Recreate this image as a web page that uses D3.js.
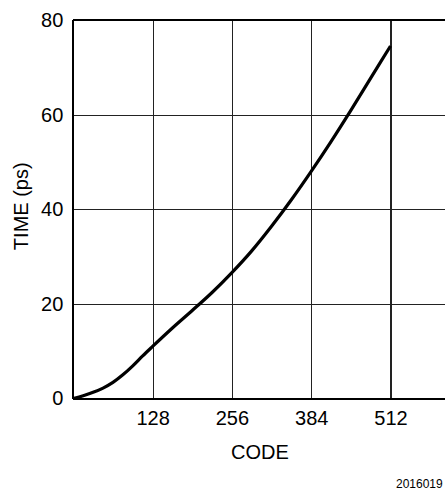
<!DOCTYPE html>
<html>
<head>
<meta charset="utf-8">
<script src="https://cdn.jsdelivr.net/npm/d3@7"></script>
<style>
  html, body { margin: 0; padding: 0; background: #fff; overflow: hidden; }
  svg, svg text { font-family: "Liberation Sans", LiberationSans, Arimo, Arial, Helvetica, Roboto, sans-serif; }
  svg { display: block; }
</style>
</head>
<body>
<svg id="chart"></svg>
<script>
// values
const codes = [0, 16, 32, 48, 64, 80, 96, 112, 128, 160, 192, 224, 256, 288, 320, 352, 384, 416, 448, 480, 512];
const times = [0, 0.6, 1.3, 2.2, 3.4, 5.0, 6.9, 9.0, 11.0, 14.9, 18.6, 22.4, 26.6, 31.2, 36.4, 42.0, 48.0, 54.3, 60.9, 67.7, 74.5];
const xTicks = [128, 256, 384, 512];
const yTicks = [0, 20, 40, 60, 80];

const width = 445;
const height = 491;
const plot = { left: 73.3, top: 20, right: 469.8, bottom: 398.5 };
const fontFamily = '"Liberation Sans", LiberationSans, Arimo, Arial, Helvetica, Roboto, sans-serif';
const fontSize = 20;

const svg = d3.select('#chart')
    .attr('width', width)
    .attr('height', height);

const x = d3.scaleLinear().domain([0, 640]).range([plot.left, plot.right]);
const y = d3.scaleLinear().domain([0, 80]).range([plot.bottom, plot.top]);

// grid + tick labels
const xAxis = svg.append('g')
    .attr('transform', `translate(0,${plot.bottom})`)
    .call(d3.axisBottom(x)
      .tickValues(xTicks)
      .tickSizeInner(-(plot.bottom - plot.top))
      .tickSizeOuter(0)
      .tickPadding(12.5));

const yAxis = svg.append('g')
    .attr('transform', `translate(${plot.left},0)`)
    .call(d3.axisLeft(y)
      .tickValues(yTicks)
      .tickSizeInner(-(plot.right - plot.left))
      .tickSizeOuter(0)
      .tickPadding(10));

[xAxis, yAxis].forEach(ax => {
  ax.attr('font-family', fontFamily).attr('font-size', fontSize);
  ax.select('.domain').remove();
  ax.selectAll('.tick line')
    .attr('stroke', '#222')
    .attr('stroke-width', 1.2)
    .attr('shape-rendering', 'crispEdges');
  ax.selectAll('.tick text')
    .attr('fill', '#000');
});

// frame: left, top, bottom
const frame = svg.append('g')
    .attr('stroke', '#000')
    .attr('stroke-width', 2)
    .attr('shape-rendering', 'crispEdges');
frame.append('line')
    .attr('x1', x(0)).attr('x2', x(0))
    .attr('y1', y(80)).attr('y2', y(0));
frame.append('line')
    .attr('x1', x(0)).attr('x2', x(640))
    .attr('y1', y(80)).attr('y2', y(80));
frame.append('line')
    .attr('x1', x(0)).attr('x2', x(640))
    .attr('y1', y(0)).attr('y2', y(0));

// the curve
const line = d3.line()
    .x((d, i) => x(codes[i]))
    .y(d => y(d))
    .curve(d3.curveMonotoneX);

svg.append('path')
    .datum(times)
    .attr('fill', 'none')
    .attr('stroke', '#000')
    .attr('stroke-width', 3.2)
    .attr('d', line);

// labels
svg.append('text')
    .attr('x', 260)
    .attr('y', 458.5)
    .attr('text-anchor', 'middle')
    .attr('font-size', fontSize)
    .text('CODE');

svg.append('text')
    .attr('transform', `translate(28,${(plot.top + plot.bottom) / 2 - 3}) rotate(-90)`)
    .attr('text-anchor', 'middle')
    .attr('font-size', fontSize)
    .text('TIME (ps)');

svg.append('text')
    .attr('x', 396)
    .attr('y', 488)
    .attr('font-size', 12)
    .text('2016019');
</script>
</body>
</html>
